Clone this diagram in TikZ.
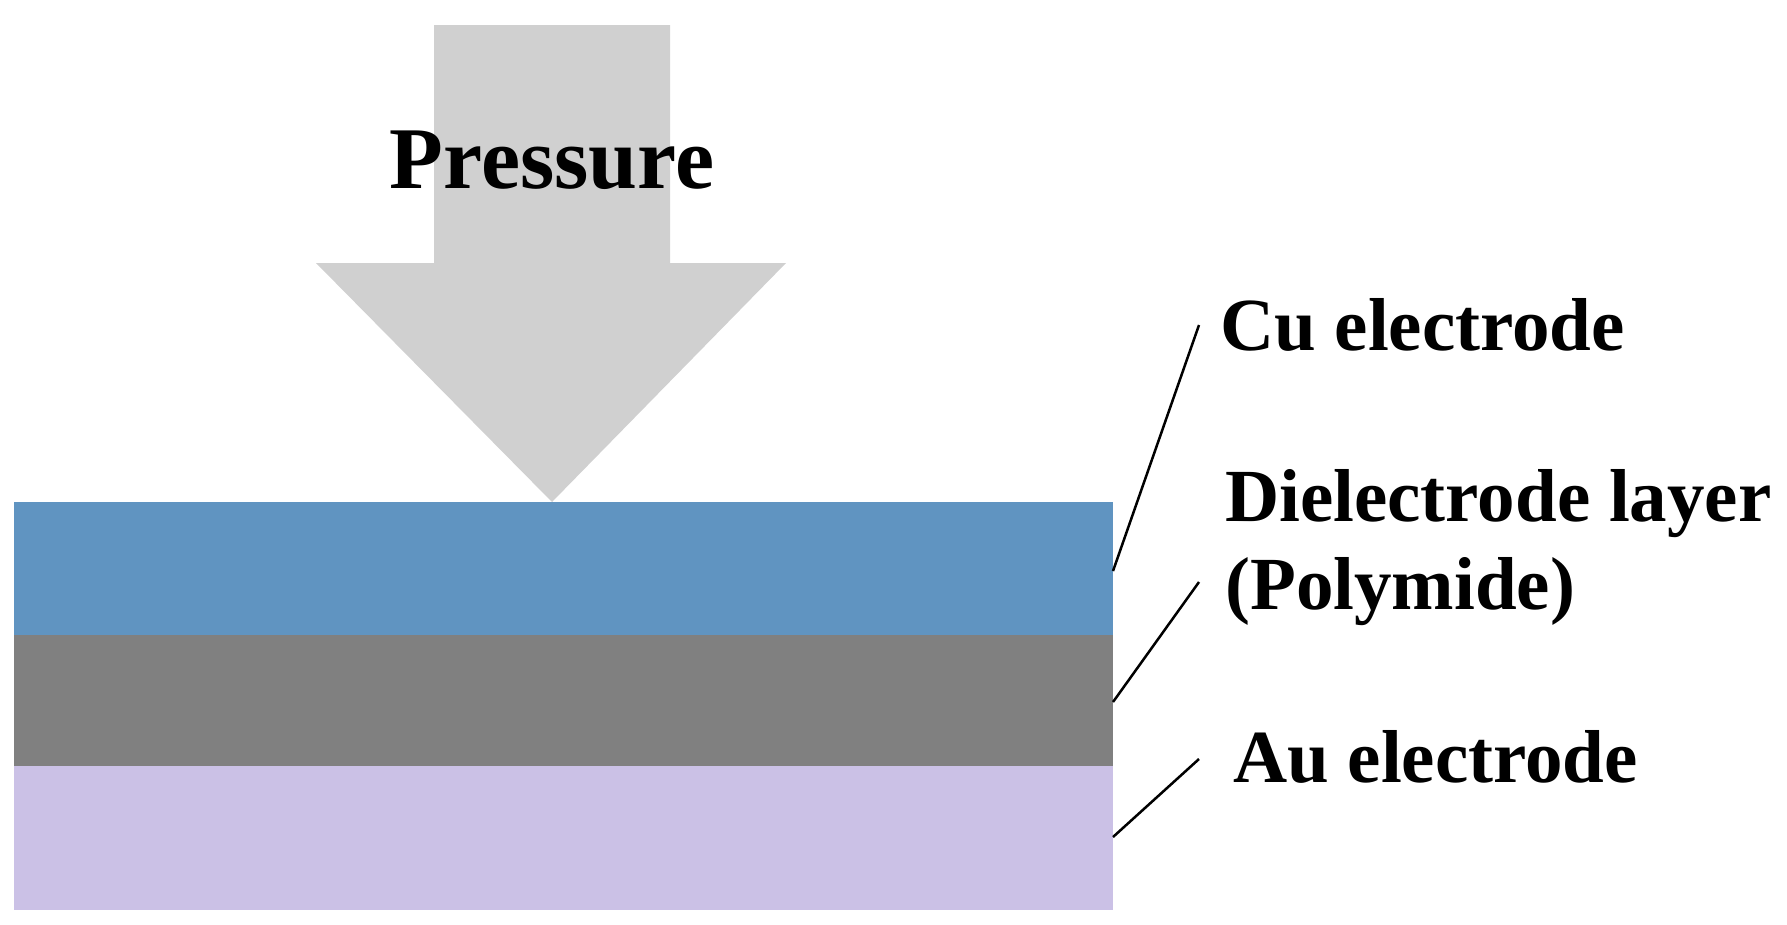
\documentclass[tikz,border=0pt]{standalone}
\usepackage{fontspec}
\setmainfont{Liberation Serif}
\begin{document}
\begin{tikzpicture}[x=1pt,y=-1pt,
  lbl/.style={anchor=west,inner sep=0pt,font=\fontsize{75}{88}\selectfont\bfseries,align=left},
  leader/.style={line width=2.5pt}]
\useasboundingbox (0,0) rectangle (1787,924);
\fill[white] (0,0) rectangle (1787,924);
\fill[fill={rgb,255:red,208;green,208;blue,208}] (434,25) -- (670,25) -- (670,263) -- (786,263) -- (552,502) -- (316,263) -- (434,263) -- cycle;
\node[inner sep=0pt,font=\fontsize{88}{100}\selectfont\bfseries] (pr) at (552,160) {Pressure};
\fill[fill={rgb,255:red,96;green,148;blue,193}] (14,502) rectangle (1113,635);
\fill[fill={rgb,255:red,128;green,128;blue,128}] (14,635) rectangle (1113,766);
\fill[fill={rgb,255:red,203;green,193;blue,230}] (14,766) rectangle (1113,910);
\coordinate (c1) at (1113,571);
\coordinate (c2) at (1113,702);
\coordinate (c3) at (1113,837);
\node[lbl] (cu) at (1220,325) {Cu electrode};
\node[lbl] (di) at (1225,548) {Dielectrode layer\\(Polymide)};
\node[lbl] (au) at (1233,757) {Au electrode};
\draw[leader] (c1) -- (1199,325);
\draw[leader] (c2) -- (1199,582);
\draw[leader] (c3) -- (1199,759);
\end{tikzpicture}
\end{document}
